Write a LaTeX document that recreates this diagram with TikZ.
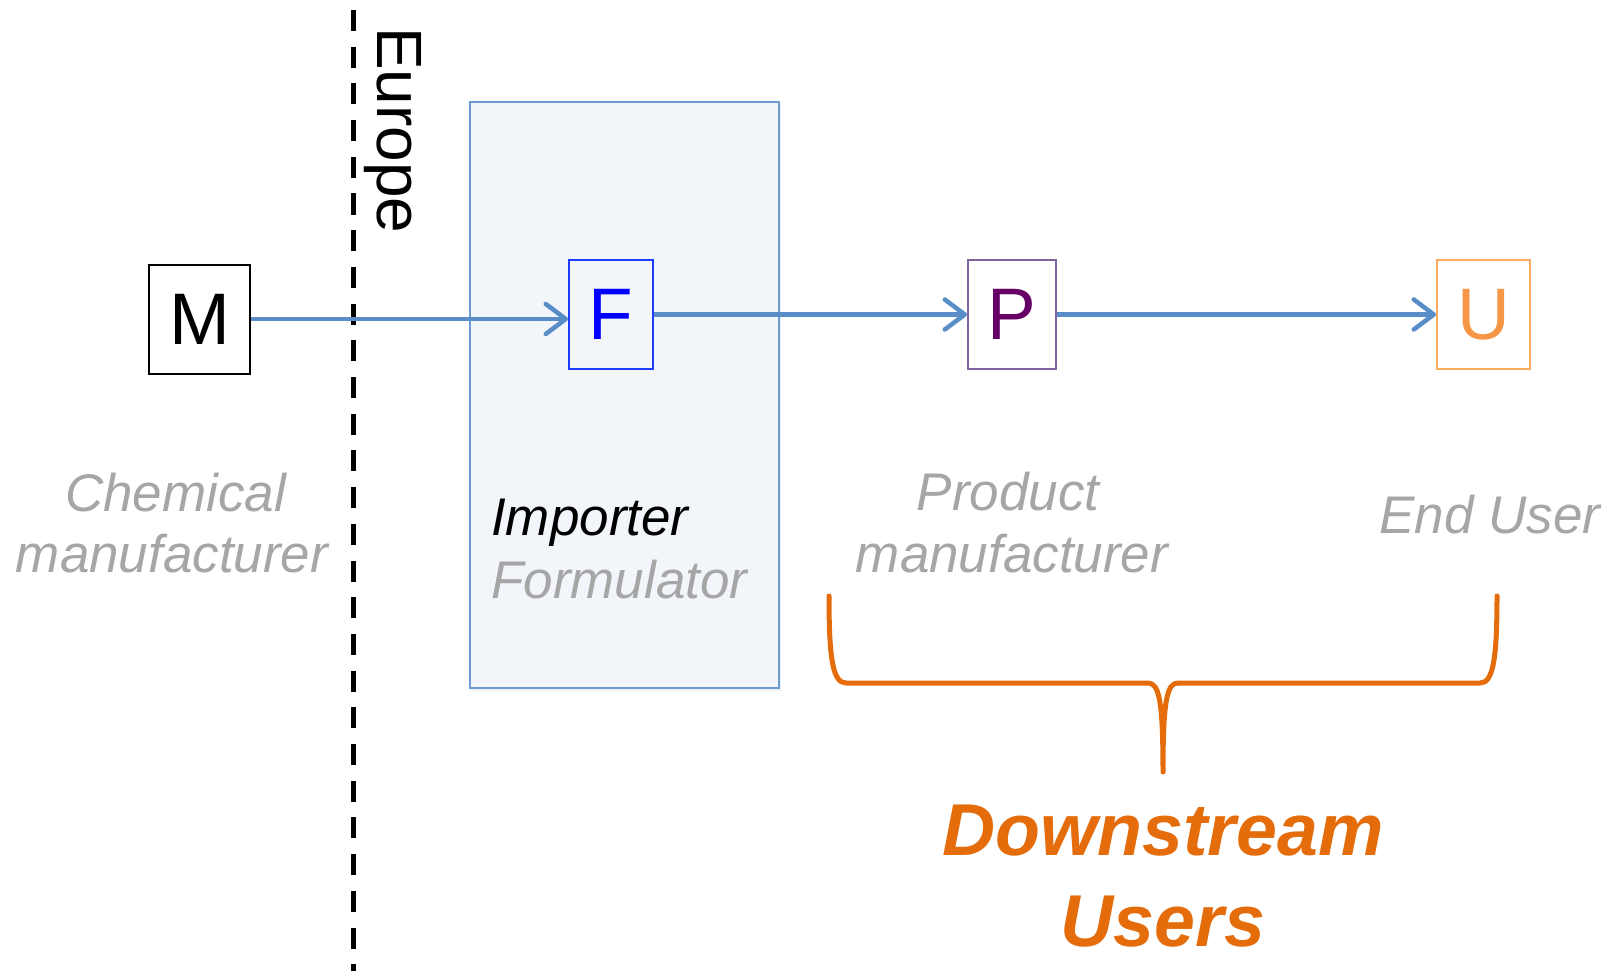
\documentclass[tikz,border=0pt]{standalone}
\usepackage{fontspec}
\setmainfont{Liberation Sans}
\usetikzlibrary{arrows.meta,shadows}

\definecolor{flowblue}{RGB}{88,141,200}
\definecolor{boxfill}{RGB}{242,246,250}
\definecolor{boxline}{RGB}{108,155,210}
\definecolor{fblue}{RGB}{0,0,255}
\definecolor{fline}{RGB}{30,60,255}
\definecolor{pline}{RGB}{128,100,162}
\definecolor{ptext}{RGB}{102,0,102}
\definecolor{uline}{RGB}{250,170,90}
\definecolor{utext}{RGB}{247,150,70}
\definecolor{labelgray}{RGB}{166,166,166}
\definecolor{dsorange}{RGB}{228,108,10}

\begin{document}
\begin{tikzpicture}[x=1pt,y=-1pt,
  actor/.style={draw, line width=2pt, inner sep=0pt, minimum height=109pt,
    font=\fontsize{73}{73}\selectfont},
  flow/.style={draw=flowblue, line width=4.5pt,
    -{Straight Barb[length=20pt,width=30pt,round]}},
  rolelabel/.style={inner sep=0pt, anchor=base, text=labelgray,
    font=\fontsize{53}{53}\selectfont\itshape},
  dslabel/.style={inner sep=0pt, anchor=base, text=dsorange,
    font=\fontsize{73.5}{73.5}\selectfont\bfseries\itshape}
]
\useasboundingbox (0,0) rectangle (1610,971);

% importer / formulator region
\node[draw=boxline, line width=1.5pt, fill=boxfill, minimum width=309pt,
  minimum height=586pt, inner sep=0pt,
  drop shadow={opacity=0.12, shadow xshift=2pt, shadow yshift=-3pt}]
  (imp) at (624.5,395) {};

% border of Europe
\coordinate (eutop) at (353,10);
\coordinate (eubot) at (353,971);
\draw[line width=5pt, dash pattern=on 21pt off 15.7pt] (eutop) -- (eubot);
\node[rotate=-90, anchor=base west, inner sep=0pt,
  font=\fontsize{64}{64}\selectfont] (europe) at (377,27) {Europe};

% actors of the supply chain
\node[actor, minimum width=101pt] (M) at (199.5,319) {M};
\node[actor, draw=fline, text=fblue, minimum width=84pt] (F) at (611,314.5) {F};
\node[actor, draw=pline, text=ptext, minimum width=88pt] (P) at (1012,314.5) {P};
\node[actor, draw=uline, text=utext, minimum width=93pt] (U) at (1483.5,314.5) {U};

% flows
\draw[flow] (M.east) -- (M.east -| F.west);
\draw[flow] (F.east) -- (P.west);
\draw[flow] (P.east) -- (U.west);

% role labels
\node[rolelabel] (chem1) at (175.5,511) {Chemical};
\node[rolelabel] (chem2) at (172,572) {manufacturer};
\node[rolelabel, anchor=base west, text=black] (imp1) at (491,535) {Importer};
\node[rolelabel, anchor=base west] (imp2) at (491,598) {Formulator};
\node[rolelabel] (prod1) at (1008,510) {Product};
\node[rolelabel] (prod2) at (1012,572) {manufacturer};
\node[rolelabel] (enduser) at (1490,533) {End User};

% brace over the downstream users
\coordinate (bl) at (829,596);
\coordinate (br) at (1497,596);
\coordinate (bt) at (1163,772);
\draw[dsorange, line width=5pt, line cap=round, line join=round]
  (bl) .. controls (829,660) and (833,683) .. (846,683)
  -- (1148,683) .. controls (1159,683) and (1163,700) .. (bt)
  .. controls (1163,700) and (1167,683) .. (1178,683)
  -- (1480,683) .. controls (1493,683) and (1497,660) .. (br);

\node[dslabel] (ds1) at (1163,855) {Downstream};
\node[dslabel] (ds2) at (1163,946) {Users};
\end{tikzpicture}
\end{document}
